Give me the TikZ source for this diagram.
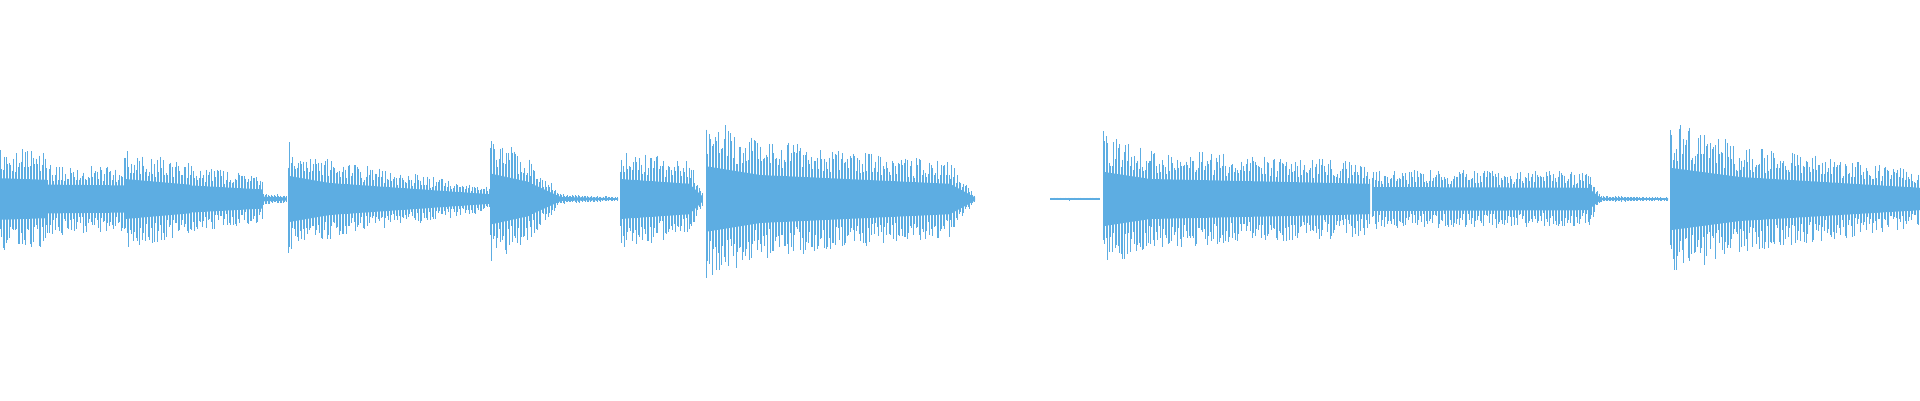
\documentclass[tikz,border=0pt]{standalone}
\begin{document}
\begin{tikzpicture}[x=1pt,y=1pt]
\definecolor{wc}{HTML}{5DADE2}
\useasboundingbox (0,0) rectangle (1920,400);
\pgfmathsetseed{7}
\newcommand\wseg[4]{%
 \fill[wc] (#1,{201+0.4*#3}) -- (#2,{201+0.4*#4}) -- (#2,{201-0.4*#4}) -- (#1,{201-0.4*#3}) -- cycle;
 \pgfmathtruncatemacro\nn{(#2-#1)/1.5}%
 \foreach \i in {0,...,\nn}{%
  \pgfmathsetmacro\xx{#1+1.5*\i}%
  \pgfmathsetmacro\tt{(\xx-#1)/(#2-#1)}%
  \pgfmathsetmacro\aa{(#3+(#4-#3)*\tt)*(0.5+0.5*rnd)}%
  \pgfmathsetmacro\bb{(#3+(#4-#3)*\tt)*(0.5+0.5*rnd)}%
  \draw[wc,line width=0.4pt] (\xx,{201+\aa}) -- (\xx,{201-\bb});}%
}
\wseg{0}{46}{52}{48}
\wseg{46}{124}{36}{34}
\wseg{124}{190}{50}{36}
\wseg{190}{262}{34}{24}
\wseg{262}{286}{6}{4}
\wseg{288}{330}{58}{40}
\wseg{330}{490}{40}{12}
\wseg{490}{530}{64}{42}
\wseg{530}{560}{40}{6}
\wseg{560}{618}{5}{2}
\wseg{620}{690}{50}{38}
\wseg{690}{702}{36}{8}
\wseg{706}{760}{82}{60}
\wseg{760}{950}{60}{38}
\wseg{950}{975}{38}{4}
\wseg{1050}{1100}{1.5}{1.5}
\wseg{1103}{1150}{68}{50}
\wseg{1150}{1370}{50}{38}
\wseg{1372}{1590}{30}{28}
\wseg{1590}{1600}{24}{4}
\wseg{1600}{1668}{3}{2}
\wseg{1670}{1740}{78}{55}
\wseg{1740}{1920}{55}{28}
\end{tikzpicture}
\end{document}
